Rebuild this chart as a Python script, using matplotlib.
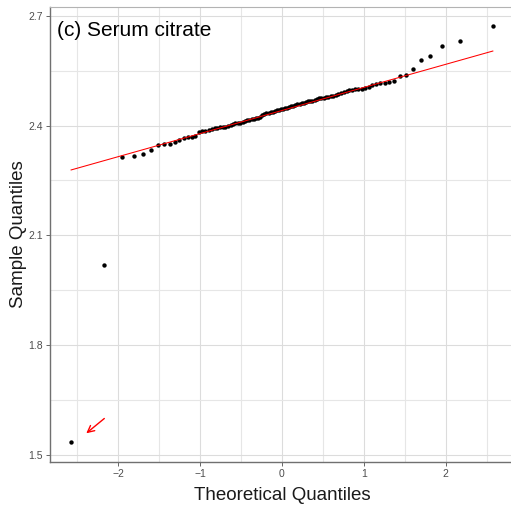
import numpy as np
import matplotlib.pyplot as plt
from matplotlib.ticker import MultipleLocator
from statistics import NormalDist

# sorted serum citrate values (sample quantiles), n = 100
sample_vals = [
    1.537, 2.019, 2.315, 2.316, 2.321, 2.333, 2.347, 2.349, 2.349, 2.354,
    2.360, 2.365, 2.368, 2.369, 2.371, 2.383, 2.384, 2.386, 2.388, 2.390,
    2.392, 2.394, 2.395, 2.396, 2.397, 2.399, 2.402, 2.404, 2.406, 2.407,
    2.408, 2.410, 2.412, 2.414, 2.415, 2.417, 2.418, 2.420, 2.421, 2.423,
    2.428, 2.431, 2.433, 2.434, 2.436, 2.438, 2.439, 2.441, 2.442, 2.444,
    2.446, 2.447, 2.449, 2.450, 2.452, 2.454, 2.456, 2.458, 2.460, 2.461,
    2.462, 2.464, 2.466, 2.467, 2.468, 2.470, 2.472, 2.474, 2.475, 2.476,
    2.478, 2.479, 2.480, 2.481, 2.483, 2.485, 2.489, 2.492, 2.495, 2.497,
    2.498, 2.499, 2.500, 2.501, 2.502, 2.504, 2.511, 2.513, 2.515, 2.517,
    2.518, 2.521, 2.534, 2.539, 2.554, 2.580, 2.589, 2.617, 2.631, 2.672,
]
title_text = "(c) Serum citrate"
x_ticks = [-2, -1, 0, 1, 2]
y_ticks = [1.5, 1.8, 2.1, 2.4, 2.7]

# theoretical quantiles (ppoints, a = 0.5)
y = np.sort(np.array(sample_vals))
n = len(y)
nd = NormalDist()
x = np.array([nd.inv_cdf((i + 0.5) / n) for i in range(n)])

# qq line through the quartiles
q1, q3 = np.percentile(y, [25, 75])
t1, t3 = nd.inv_cdf(0.25), nd.inv_cdf(0.75)
slope = (q3 - q1) / (t3 - t1)
intercept = q1 - slope * t1
line_x = np.array([x.min(), x.max()])

fig = plt.figure(figsize=(5.11, 5.08), dpi=100)
ax = fig.add_axes([0.0978, 0.0906, 0.908, 0.8956])
plt.rcParams['font.family'] = ['Liberation Sans', 'DejaVu Sans']

ax.scatter(x, y, s=10, color='black', zorder=3, linewidths=0)
ax.plot(line_x, intercept + slope * line_x, color='#ff0000', linewidth=0.75, zorder=4)

# arrow pointing at the low outlier
ax.annotate('', xy=(-2.417, 1.555), xytext=(-2.144, 1.605),
            arrowprops=dict(arrowstyle='->', color='#ff0000', lw=1.0,
                            mutation_scale=12))

ax.set_xlim(-2.834, 2.834)
ax.set_ylim(1.4815, 2.7235)
ax.set_xticks(x_ticks)
ax.set_xticklabels([f'\u2212{abs(v)}' if v < 0 else str(v) for v in x_ticks],
                   family='Liberation Sans')
ax.set_yticks(y_ticks)
ax.set_yticklabels([f'{v:.1f}' for v in y_ticks], family='Liberation Sans')
ax.xaxis.set_minor_locator(MultipleLocator(0.5))
ax.yaxis.set_minor_locator(MultipleLocator(0.15))

ax.grid(which='major', color='#dcdcdc', linewidth=0.8)
ax.grid(which='minor', color='#e6e6e6', linewidth=0.8)
ax.set_axisbelow(True)
ax.tick_params(which='major', length=3, width=0.6, color='#4d4d4d',
               labelsize=7.5, labelcolor='#4d4d4d', pad=2)
ax.tick_params(which='minor', length=0)

for side in ['left', 'bottom']:
    ax.spines[side].set_color('#707070')
    ax.spines[side].set_linewidth(1.0)
ax.spines['top'].set_color('#b3b3b3')
ax.spines['right'].set_color('#b3b3b3')

ax.set_xlabel('Theoretical Quantiles', fontsize=13.5, family='Liberation Sans',
              color='#1a1a1a', labelpad=6)
ax.set_ylabel('Sample Quantiles', fontsize=13.5, family='Liberation Sans',
              color='#1a1a1a', labelpad=1)
ax.text(0.016, 0.97, title_text, transform=ax.transAxes, fontsize=15,
        family='Liberation Sans', va='top', ha='left', color='black')

fig.savefig('out.png', dpi=100)
